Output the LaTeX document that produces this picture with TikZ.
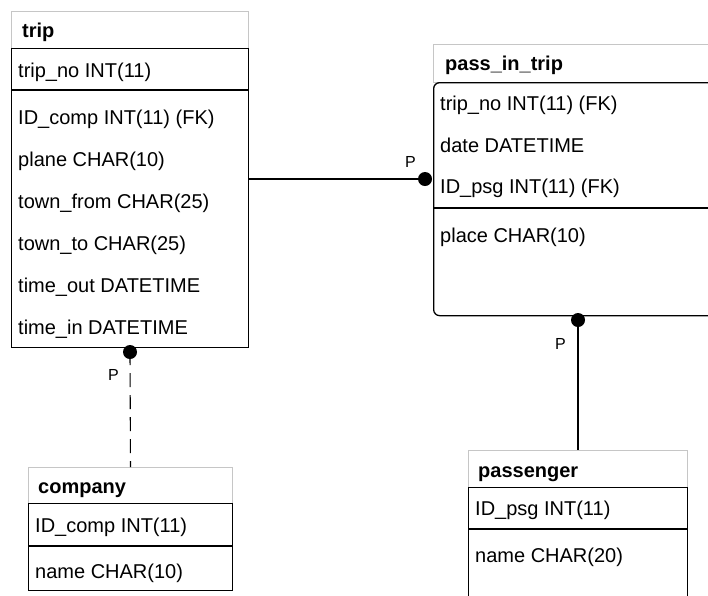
\documentclass[tikz,border=0pt]{standalone}
\usepackage{fontspec}
\setmainfont{Liberation Sans}
\usetikzlibrary{positioning}

\begin{document}
\begin{tikzpicture}[x=1pt, y=-1pt,
                head/.style={draw=gray!45, line width=1pt, anchor=north west, minimum height=37pt, inner sep=0pt},
                body/.style={draw=black, line width=1.3pt, anchor=north west, inner sep=0pt},
                attr/.style={anchor=base west, inner sep=0pt, font=\fontsize{20}{24}\selectfont},
                tname/.style={anchor=base west, inner sep=0pt, font=\fontsize{20}{24}\selectfont\bfseries},
                pdot/.style={circle, fill=black, inner sep=0pt, minimum size=14pt},
                plabel/.style={anchor=base west, inner sep=0pt, font=\fontsize{16}{18}\selectfont},
                link/.style={line width=1.3pt}]
            \useasboundingbox (0,0) rectangle (708,595);
            \clip (0,0) rectangle (708,595);
            % trip
            \node[head, minimum width=237pt] (triphead) at (11,11) {};
            \node[body, minimum width=237pt, minimum height=299pt] (trip) at (11,48) {};
            \draw[link] (11,90) -- (248,90);
            \node[tname] (tripname) at (22,37) {trip};
            \node[attr] (trip1) at (18,77) {trip\_no INT(11)};
            \node[attr] (trip2) at (18,124) {ID\_comp INT(11) (FK)};
            \node[attr] (trip3) at (18,166) {plane CHAR(10)};
            \node[attr] (trip4) at (18,208) {town\_from CHAR(25)};
            \node[attr] (trip5) at (18,250) {town\_to CHAR(25)};
            \node[attr] (trip6) at (18,292) {time\_out DATETIME};
            \node[attr] (trip7) at (18,334) {time\_in DATETIME};
            % pass_in_trip
            \node[head, minimum width=290pt, minimum height=38pt] (pithead) at (433,44) {};
            \node[body, rounded corners=6pt, minimum width=290pt, minimum height=233pt] (pit) at (433,82) {};
            \draw[link] (433,208) -- (723,208);
            \node[tname] (pitname) at (445,70) {pass\_in\_trip};
            \node[attr] (pit1) at (440,110) {trip\_no INT(11) (FK)};
            \node[attr] (pit2) at (440,152) {date DATETIME};
            \node[attr] (pit3) at (440,193) {ID\_psg INT(11) (FK)};
            \node[attr] (pit4) at (440,242) {place CHAR(10)};
            % company
            \node[head, minimum width=204pt, minimum height=36pt] (comphead) at (28,467) {};
            \node[body, minimum width=204pt, minimum height=87pt] (comp) at (28,503) {};
            \draw[link] (28,546) -- (232,546);
            \node[tname] (compname) at (38,493) {company};
            \node[attr] (comp1) at (35,532) {ID\_comp INT(11)};
            \node[attr] (comp2) at (35,578) {name CHAR(10)};
            % passenger
            \node[head, minimum width=219pt] (psghead) at (468,450) {};
            \node[body, minimum width=219pt, minimum height=130pt] (psg) at (468,487) {};
            \draw[link] (468,529) -- (687,529);
            \node[tname] (psgname) at (478,477) {passenger};
            \node[attr] (psg1) at (475,515) {ID\_psg INT(11)};
            \node[attr] (psg2) at (475,562) {name CHAR(20)};
            % relationships
            \node[pdot] (dotpit) at (425,179) {};
            \node[pdot] (dottrip) at (130,352) {};
            \node[pdot] (dotpsg) at (578,320) {};
            \draw[link] (trip.east |- dotpit) -- (dotpit);
            \draw[line width=1.1pt, dash pattern=on 14pt off 8pt, dash phase=1pt] (dottrip.center) -- (comphead.north);
            \draw[link] (dotpsg) -- (psghead.north -| dotpsg);
            \node[plabel] (p1) at (405,167) {P};
            \node[plabel] (p2) at (108,380) {P};
            \node[plabel] (p3) at (555,349) {P};
        \end{tikzpicture}
\end{document}
